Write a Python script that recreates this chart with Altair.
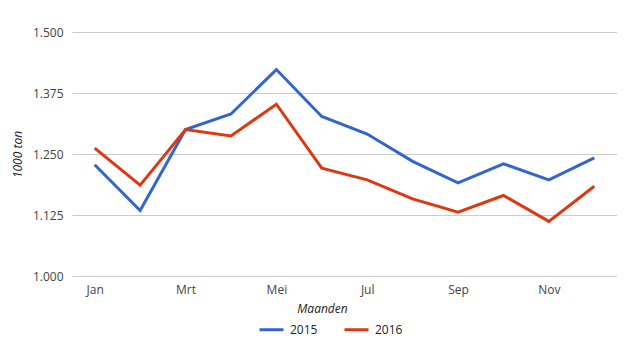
import altair as alt
import pandas as pd

months = ["Jan", "Feb", "Mrt", "Apr", "Mei", "Jun", "Jul", "Aug", "Sep", "Okt", "Nov", "Dec"]
y2015 = [1228, 1134, 1300, 1332, 1423, 1327, 1291, 1235, 1191, 1230, 1197, 1242]
y2016 = [1262, 1186, 1300, 1287, 1352, 1221, 1197, 1158, 1131, 1165, 1112, 1184]
series = ["2015", "2016"]
colors = ["#3366CC", "#DC3912"]
y_ticks = [1000, 1125, 1250, 1375, 1500]
x_ticks = ["Jan", "Mrt", "Mei", "Jul", "Sep", "Nov"]

rows = []
for m, a, b in zip(months, y2015, y2016):
    rows.append({"maand": m, "jaar": "2015", "waarde": a})
    rows.append({"maand": m, "jaar": "2016", "waarde": b})
df = pd.DataFrame(rows)

FONT = "Open Sans"

chart = alt.Chart(df).mark_line(strokeWidth=3).encode(
    x=alt.X("maand:N", sort=months,
            scale=alt.Scale(type="point", padding=0.5, domain=months),
            axis=alt.Axis(values=x_ticks, title="Maanden", labelAngle=0,
                          domain=False, ticks=False, grid=False,
                          labelPadding=8, labelFontSize=12, labelColor="#444",
                          labelFont=FONT, titleFont=FONT, titleFontSize=12,
                          titleFontStyle="italic", titleFontWeight="normal",
                          titleColor="#222", titlePadding=8, titleX=250)),
    y=alt.Y("waarde:Q",
            scale=alt.Scale(domain=[1000, 1500], nice=False, zero=False),
            axis=alt.Axis(values=y_ticks, title="1000 ton",
                          labelExpr="replace(format(datum.value, ',.0f'), ',', '.')",
                          domain=False, ticks=False, gridColor="#cccccc",
                          labelPadding=9, labelFontSize=12, labelColor="#444",
                          labelFont=FONT, titleFont=FONT, titleFontSize=12,
                          titleFontStyle="italic", titleFontWeight="normal",
                          titleColor="#222", titlePadding=8)),
    color=alt.Color("jaar:N", scale=alt.Scale(domain=series, range=colors),
                    legend=alt.Legend(title=None, orient="none", direction="horizontal",
                                      legendX=186, legendY=284,
                                      symbolType="stroke", symbolSize=576,
                                      symbolStrokeWidth=3, labelFontSize=12,
                                      labelFont=FONT, labelColor="#222",
                                      columnPadding=20, labelOffset=5)),
).properties(
    width=545, height=244,
    autosize=alt.AutoSizeParams(type="none"),
    padding={"left": 64, "top": 24, "right": 0, "bottom": 80},
).configure_view(stroke=None)

chart.save("out.html", embed_options={"renderer": "svg", "actions": False})
